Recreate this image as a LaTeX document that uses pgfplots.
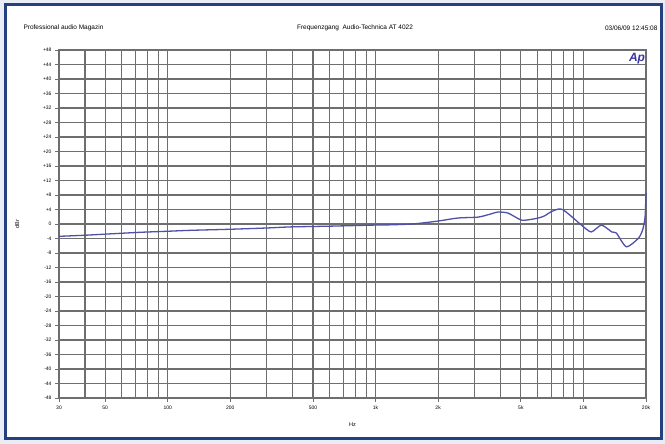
\documentclass[border=0pt]{standalone}
\usepackage{pgfplots}
\pgfplotsset{compat=1.18}
\usepackage{fontspec}
\setmainfont{Liberation Sans}
\definecolor{bgc}{HTML}{E8EDF6}
\definecolor{framec}{HTML}{24407E}
\definecolor{gridc}{HTML}{6E6E6E}
\definecolor{curvec}{HTML}{5050A8}
\definecolor{apc}{HTML}{3A36A0}
\begin{document}
\begin{tikzpicture}
\fill[bgc] (0pt,0pt) rectangle (665pt,444pt);
\fill[white,draw=framec,line width=3pt] (5pt,5pt) rectangle (661pt,439pt);
\node[anchor=west,font=\fontsize{6.5}{7}\selectfont] at (20pt,416pt) {Professional audio Magazin};
\node[font=\fontsize{6.5}{7}\selectfont] at (355pt,416pt) {Frequenzgang\ \ Audio-Technica AT 4022};
\node[anchor=east,font=\fontsize{6.5}{7}\selectfont] at (661pt,416pt) {03/06/09 12:45:08};
\begin{axis}[
  at={(59pt,46pt)}, anchor=south west,
  width=587pt, height=348pt, scale only axis,
  xmode=log, xmin=30, xmax=20000,
  ymin=-48, ymax=48,
  xtick={30,50,100,200,500,1000,2000,5000,10000,20000},
  xticklabels={30,50,100,200,500,1k,2k,5k,10k,20k},
  minor xtick={40,60,70,80,90,300,400,600,700,800,900,3000,4000,6000,7000,8000,9000},
  ytick={-48,-44,...,48},
  yticklabels={-48,-44,-40,-36,-32,-28,-24,-20,-16,-12,-8,-4,0,+4,+8,+12,+16,+20,+24,+28,+32,+36,+40,+44,+48},
  grid=both,
  major grid style={gridc,line width=1.1pt},
  minor grid style={gridc,line width=1.1pt},
  axis line style={gridc,line width=1.2pt},
  tick style={gridc,line width=0.9pt},
  ytick pos=left, xtick pos=bottom,
  major tick length=4pt, minor tick length=0pt,
  tick align=outside,
  ticklabel style={font=\fontsize{5}{6}\selectfont},
  /pgf/number format/assume math mode=true,
  xlabel={Hz}, ylabel={dBr},
  xlabel style={font=\fontsize{5.5}{6}\selectfont, at={(0.5,-0.06)}, anchor=north},
  ylabel style={font=\fontsize{5.5}{6}\selectfont, at={(-0.062,0.5)}, anchor=south},
  clip=false,
]
\addplot[curvec, line width=1.3pt, smooth, tension=0.4] coordinates {
(30,-3.4) (40,-3.1) (50,-2.8) (73,-2.3) (100,-2.0) (128,-1.75) (200,-1.45)
(300,-1.1) (390,-0.8) (600,-0.6) (980,-0.3) (1060,-0.3) (1500,0.0)
(1990,0.8) (2490,1.65) (3110,1.9) (3500,2.6) (3880,3.3) (4340,3.0)
(5010,1.1) (5500,1.2) (6060,1.65) (6480,2.2) (7000,3.4) (7570,4.1)
(8000,3.9) (9000,1.5) (9780,-0.3) (10900,-2.2) (12200,-0.3) (13700,-2.2)
(14400,-2.5) (16100,-6.3) (18400,-3.9) (19300,-1.5) (19800,2) (20000,8.6)
};
\end{axis}
\node[font=\bfseries\itshape\fontsize{12}{13}\selectfont, text=apc] at (637pt,385pt) {Ap};
\end{tikzpicture}
\end{document}
